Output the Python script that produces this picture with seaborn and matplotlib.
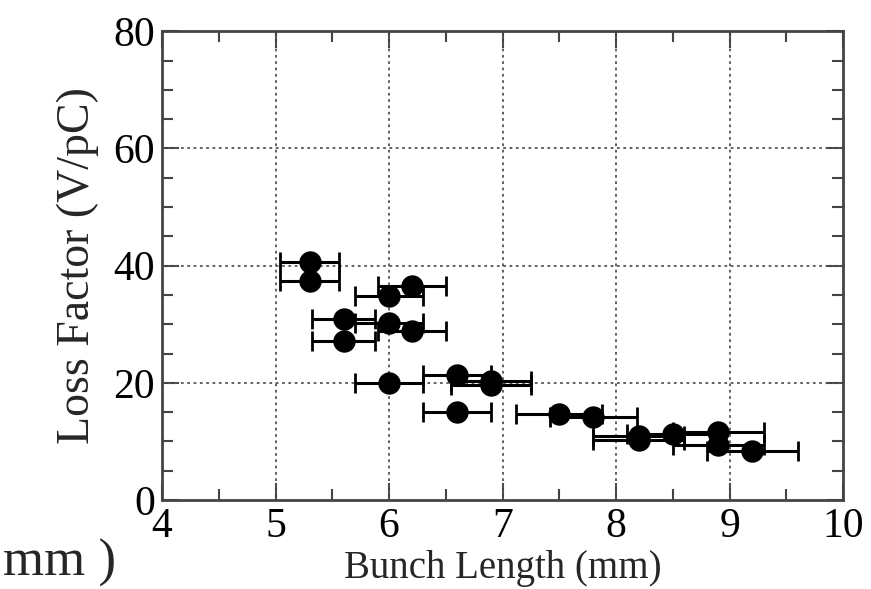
import matplotlib
matplotlib.use("Agg")
import matplotlib.pyplot as plt
import pandas as pd
import seaborn as sns
from matplotlib.ticker import MultipleLocator

# bunch length (mm), loss factor (V/pC), horizontal error (mm)
bunch_length = [5.3, 5.3, 5.6, 5.6, 6.0, 6.2, 6.0, 6.2, 6.0, 6.6, 6.9,
                6.9, 6.6, 7.5, 7.8, 8.2, 8.2, 8.5, 8.9, 8.9, 9.2]
loss_factor = [40.7, 37.3, 30.9, 27.2, 34.8, 36.6, 30.2, 28.9, 20.0, 21.3, 19.7,
               20.3, 15.1, 14.6, 14.1, 11.0, 10.2, 11.2, 11.6, 9.4, 8.4]
length_err = [0.26, 0.26, 0.28, 0.28, 0.3, 0.3, 0.3, 0.3, 0.3, 0.3, 0.35,
              0.35, 0.3, 0.38, 0.38, 0.4, 0.4, 0.4, 0.4, 0.4, 0.4]

x_ticks = [4, 5, 6, 7, 8, 9, 10]
y_ticks = [0, 20, 40, 60, 80]

df = pd.DataFrame({"length": bunch_length, "loss": loss_factor, "err": length_err})

sns.set_theme(style="ticks")
plt.rcParams["font.family"] = ["Liberation Serif", "DejaVu Serif"]

fig = plt.figure(figsize=(8.71, 5.89), dpi=100)
ax = fig.add_axes([0.186, 0.151, 0.782, 0.796])

ax.errorbar(df["length"], df["loss"], xerr=df["err"], fmt="none",
            ecolor="black", elinewidth=2.2, capsize=7, capthick=2, zorder=2)
sns.scatterplot(data=df, x="length", y="loss", ax=ax, color="black",
                s=260, edgecolor="black", linewidth=0, zorder=3, legend=False)

ax.set_xlim(4, 10)
ax.set_ylim(0, 80)
ax.set_xticks(x_ticks)
ax.set_yticks(y_ticks)
ax.xaxis.set_minor_locator(MultipleLocator(0.5))
ax.yaxis.set_minor_locator(MultipleLocator(5))
ax.tick_params(which="both", direction="in", top=True, right=True,
               colors="#444444", labelcolor="black", labelsize=30, pad=5)
ax.tick_params(which="major", length=12, width=1.5)
ax.tick_params(which="minor", length=8, width=1.5)

for x in x_ticks[1:-1]:
    ax.axvline(x, color="#555555", linestyle=(0, (1.5, 2)), linewidth=1.3, zorder=1)
for y in y_ticks[1:-1]:
    ax.axhline(y, color="#555555", linestyle=(0, (1.5, 2)), linewidth=1.3, zorder=1)

for side in ax.spines.values():
    side.set_color("#444444")
    side.set_linewidth(2)

ax.set_xlabel("Bunch Length (mm)", fontsize=28, labelpad=3)
ax.set_ylabel("Loss Factor (V/pC)", fontsize=33, labelpad=10)

fig.text(0.004, 0.003, "mm )", fontsize=38, ha="left", va="bottom")

fig.savefig("out.png", dpi=100)
